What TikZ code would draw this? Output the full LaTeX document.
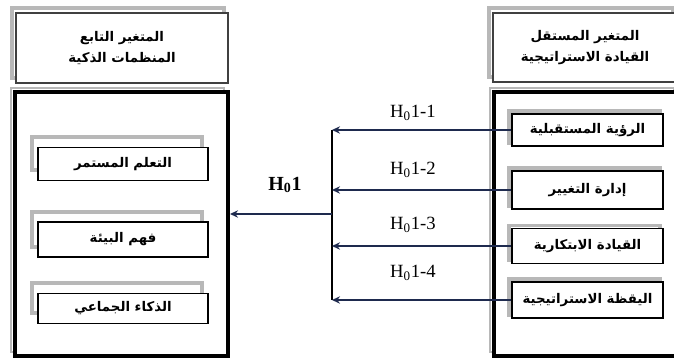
\documentclass[tikz,border=0pt]{standalone}
\usepackage{fontspec}
\setmainfont{Liberation Serif}
\newfontfamily\arabicfont[Script=Arabic]{DejaVu Sans}
\TeXXeTstate=1
\usetikzlibrary{arrows.meta}

\definecolor{hnavy}{RGB}{30,42,78}
\newcommand{\ar}[1]{{\arabicfont\bfseries\beginR #1\endR}}

\tikzset{
  lshade/.style n args={3}{preaction={draw=black!28,fill=none,line width=#3,
      transform canvas={shift={(#1,#2)}}}},
  headbox/.style={draw=black!75,line width=1.1pt,fill=white,align=center,
      font=\fontsize{10}{16}\selectfont,lshade={-3pt}{3.75pt}{3pt}},
  bigbox/.style={draw=black,line width=3pt,fill=white,lshade={-3pt}{3pt}{2pt}},
  dimbox/.style={draw=black,line width=0.9pt,fill=white,
      font=\fontsize{10}{12}\selectfont},
  hyparrow/.style={draw=hnavy,line width=1.3pt,-{Stealth[length=6pt,width=5.5pt]}},
  hyplabel/.style={font=\fontsize{14}{16}\selectfont}
}

\begin{document}
\begin{tikzpicture}[x=0.75pt,y=-0.75pt]
  \useasboundingbox (0,0) rectangle (674,359);

  % heading boxes
  \node[headbox,minimum width=159pt,minimum height=52.5pt] (dephead) at (122,48)
    {\ar{المتغير التابع}\\\ar{المنظمات الذكية}};
  \node[headbox,minimum width=138pt,minimum height=51.75pt] (indhead) at (585,47.5)
    {\ar{المتغير المستقل}\\\ar{القيادة الاستراتيجية}};

  % outer frames
  \node[bigbox,minimum width=159.75pt,minimum height=198pt] (depframe) at (121.5,224) {};
  \node[bigbox,minimum width=138pt,minimum height=198pt] (indframe) at (586,224) {};

  % dependent dimensions
  \node[dimbox,lshade={-4.5pt}{7.5pt}{3pt},minimum width=127.5pt,minimum height=24.75pt] (learn) at (123,164) {\ar{التعلم المستمر}};
  \node[dimbox,lshade={-4.5pt}{7.5pt}{3pt},minimum width=127.5pt,minimum height=26.25pt] (envir) at (123,239.5) {\ar{فهم البيئة}};
  \node[dimbox,lshade={-4.5pt}{7.5pt}{3pt},minimum width=127.5pt,minimum height=22.5pt] (collect) at (123,308.5) {\ar{الذكاء الجماعي}};

  % independent dimensions
  \node[dimbox,lshade={-2.25pt}{2.25pt}{2.5pt},minimum width=113.25pt,minimum height=24pt] (vision) at (587.5,130) {\ar{الرؤية المستقبلية}};
  \node[dimbox,lshade={-2.25pt}{2.25pt}{2.5pt},minimum width=113.25pt,minimum height=28.5pt] (change) at (587.5,190) {\ar{إدارة التغيير}};
  \node[dimbox,lshade={-2.25pt}{2.25pt}{2.5pt},minimum width=113.25pt,minimum height=26.25pt] (innov) at (587.5,246) {\ar{القيادة الابتكارية}};
  \node[dimbox,lshade={-2.25pt}{2.25pt}{2.5pt},minimum width=113.25pt,minimum height=27pt] (alert) at (587.5,300) {\ar{اليقظة الاستراتيجية}};

  % hypotheses
  \coordinate (bartop) at (332,130);
  \coordinate (barbot) at (332,300);
  \coordinate (hub) at (332,214);
  \draw[black,line width=1.4pt] (bartop) -- (barbot); % collecting bar
  \foreach \d in {vision,change,innov,alert}
    \draw[hyparrow] (\d.west) -- (\d.west -| hub);
  \draw[hyparrow] (hub) -- (depframe.east |- hub);

  \node[hyplabel] (h11) at (413,113) {H\textsubscript{0}1-1};
  \node[hyplabel] (h12) at (413,170) {H\textsubscript{0}1-2};
  \node[hyplabel] (h13) at (413,225) {H\textsubscript{0}1-3};
  \node[hyplabel] (h14) at (413,273) {H\textsubscript{0}1-4};
  \node[hyplabel,font=\fontsize{15}{17}\selectfont\bfseries] (h1) at (285,185) {H\textsubscript{0}1};
\end{tikzpicture}
\end{document}
